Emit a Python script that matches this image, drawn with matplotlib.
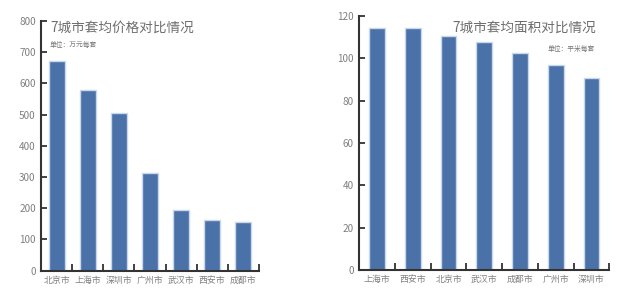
import matplotlib
matplotlib.use("Agg")
import matplotlib.pyplot as plt
import numpy as np

plt.rcParams['font.family'] = ['Noto Sans CJK SC', 'DejaVu Sans']

price_cities = ["北京市", "上海市", "深圳市", "广州市", "武汉市", "西安市", "成都市"]
price_values = [672, 579, 505, 312, 196, 164, 155]
price_ticks = [0, 100, 200, 300, 400, 500, 600, 700, 800]

area_cities = ["上海市", "西安市", "北京市", "武汉市", "成都市", "广州市", "深圳市"]
area_values = [114.5, 114.5, 110.4, 107.9, 102.5, 96.7, 90.8]
area_ticks = [0, 20, 40, 60, 80, 100, 120]

BAR = '#4a72a8'
EDGE = '#c8d8ec'
SPINE = '#333333'
TXT = '#808080'

fig = plt.figure(figsize=(6.4, 2.94), dpi=100)
ax1 = fig.add_axes([41.3/640, (294-270.7)/294, (258.7-41.3)/640, (270.7-21)/294])
ax2 = fig.add_axes([359.3/640, (294-270)/294, (609.3-359.3)/640, (270-16)/294])


def style(ax, cats, vals, ticks, width):
    x = np.arange(len(cats))
    ax.bar(x, vals, width=width, color=BAR, edgecolor=EDGE, linewidth=1.0, zorder=2)
    ax.set_xlim(-0.5, len(cats) - 0.5)
    ax.set_ylim(ticks[0], ticks[-1])
    ax.set_yticks(ticks)
    ax.set_yticklabels([str(t) for t in ticks])
    ax.set_xticks(np.arange(len(cats)) + 0.5)
    ax.set_xticklabels([])
    ax.set_xticks(x, minor=True)
    ax.set_xticklabels(cats, minor=True)
    for s in ['top', 'right']:
        ax.spines[s].set_visible(False)
    for s in ['left', 'bottom']:
        ax.spines[s].set_color(SPINE)
        ax.spines[s].set_linewidth(1.5)
    ax.tick_params(axis='y', direction='in', length=4, width=1.3, color=SPINE,
                   labelsize=7.2, labelcolor=TXT, pad=4)
    ax.tick_params(axis='x', which='major', direction='in', length=5, width=1.3, color=SPINE)
    ax.tick_params(axis='x', which='minor', length=0, labelsize=6.4, labelcolor=TXT, pad=3.5)


style(ax1, price_cities, price_values, price_ticks, 0.5)
style(ax2, area_cities, area_values, area_ticks, 0.44)

fig.text(50/640, 1 - 28/294, "7城市套均价格对比情况", fontsize=9.8, color='#6e6e6e',
         ha='left', va='center')
fig.text(50/640, 1 - 45/294, "单位：万元每套", fontsize=4.9, color='#777777',
         ha='left', va='center')
fig.text(596/640, 1 - 28/294, "7城市套均面积对比情况", fontsize=9.8, color='#6e6e6e',
         ha='right', va='center')
fig.text(595/640, 1 - 49/294, "单位：平米每套", fontsize=4.9, color='#777777',
         ha='right', va='center')

fig.savefig("out.png", dpi=100)
